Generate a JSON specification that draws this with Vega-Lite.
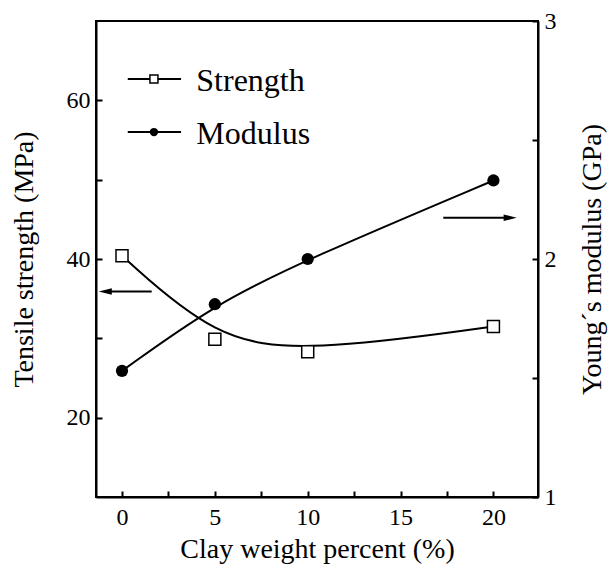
{
  "$schema": "https://vega.github.io/schema/vega-lite/v6.json",
  "width": 442,
  "height": 476,
  "autosize": "none",
  "padding": {"left": 96, "top": 21, "right": 72, "bottom": 75},
  "background": "white",
  "config": {
    "font": "Liberation Serif, Times New Roman, DejaVu Serif, serif",
    "view": {"stroke": "black", "strokeWidth": 2},
    "axis": {
      "grid": false,
      "domainColor": "black",
      "domainWidth": 2,
      "tickColor": "black",
      "tickWidth": 2,
      "tickSize": -6,
      "labelColor": "black",
      "titleColor": "black",
      "labelFont": "Liberation Serif, Times New Roman, DejaVu Serif, serif",
      "titleFont": "Liberation Serif, Times New Roman, DejaVu Serif, serif",
      "labelFontSize": 24,
      "titleFontSize": 28,
      "titleFontWeight": "normal"
    }
  },
  "datasets": {
    "strength": [
      {"clay": 0, "strength": 40.4},
      {"clay": 5, "strength": 29.9},
      {"clay": 10, "strength": 28.3},
      {"clay": 20, "strength": 31.5}
    ],
    "modulus": [
      {"clay": 0, "modulus": 1.53},
      {"clay": 5, "modulus": 1.81},
      {"clay": 10, "modulus": 2.0},
      {"clay": 20, "modulus": 2.33}
    ],
    "legend": [
      {"series": "Strength", "clay": 0.31, "clay_end": 3.18, "mid": 1.72, "strength": 62.7, "label_x": 4.0},
      {"series": "Modulus", "clay": 0.31, "clay_end": 3.18, "mid": 1.72, "strength": 56.0, "label_x": 4.0}
    ],
    "arrows": [
      {"clay": 1.6, "clay_end": -0.9, "head": -0.9, "strength": 35.9, "dir": "left"},
      {"clay": 17.3, "clay_end": 20.9, "head": 20.9, "strength": 45.2, "dir": "right"}
    ]
  },
  "encoding": {
    "x": {
      "field": "clay",
      "type": "quantitative",
      "scale": {"domain": [-1.4, 22.4], "nice": false, "zero": false},
      "axis": {
        "title": "Clay weight percent (%)",
        "values": [0, 2.5, 5, 7.5, 10, 12.5, 15, 17.5, 20],
        "labelExpr": "datum.value % 5 === 0 ? datum.label : ''",
        "labelPadding": 14,
        "titlePadding": 6
      }
    }
  },
  "layer": [
    {
      "encoding": {
        "y": {
          "field": "strength",
          "type": "quantitative",
          "scale": {"domain": [10, 70], "nice": false, "zero": false},
          "axis": {
            "orient": "left",
            "title": "Tensile strength (MPa)",
            "values": [20, 30, 40, 50, 60],
            "labelExpr": "datum.value % 20 === 0 ? datum.label : ''",
            "labelPadding": 12,
            "titlePadding": 28
          }
        }
      },
      "layer": [
        {
          "data": {"name": "strength"},
          "mark": {"type": "line", "interpolate": "basis", "color": "black", "strokeWidth": 2}
        },
        {
          "data": {"name": "strength"},
          "mark": {"type": "point", "shape": "square", "filled": true, "fill": "white", "stroke": "black", "strokeWidth": 1.5, "size": 144, "opacity": 1}
        },
        {
          "data": {"name": "legend"},
          "mark": {"type": "rule", "color": "black", "strokeWidth": 2},
          "encoding": {"x2": {"field": "clay_end"}}
        },
        {
          "data": {"name": "legend"},
          "transform": [{"filter": "datum.series === 'Strength'"}],
          "mark": {"type": "point", "shape": "square", "filled": true, "fill": "white", "stroke": "black", "strokeWidth": 1.5, "size": 64, "opacity": 1},
          "encoding": {"x": {"field": "mid", "type": "quantitative"}}
        },
        {
          "data": {"name": "legend"},
          "transform": [{"filter": "datum.series === 'Modulus'"}],
          "mark": {"type": "point", "shape": "circle", "filled": true, "color": "black", "size": 70, "opacity": 1},
          "encoding": {"x": {"field": "mid", "type": "quantitative"}}
        },
        {
          "data": {"name": "legend"},
          "mark": {"type": "text", "align": "left", "baseline": "middle", "fontSize": 32, "font": "Liberation Serif, Times New Roman, DejaVu Serif, serif", "color": "black", "dy": 2},
          "encoding": {
            "x": {"field": "label_x", "type": "quantitative"},
            "text": {"field": "series"}
          }
        },
        {
          "data": {"name": "arrows"},
          "mark": {"type": "rule", "color": "black", "strokeWidth": 2},
          "encoding": {"x2": {"field": "clay_end"}}
        },
        {
          "data": {"name": "arrows"},
          "transform": [{"filter": "datum.dir === 'left'"}],
          "mark": {"type": "point", "shape": "M-1,0L1,-0.5L1,0.5Z", "filled": true, "color": "black", "size": 170, "opacity": 1},
          "encoding": {"x": {"field": "head", "type": "quantitative"}}
        },
        {
          "data": {"name": "arrows"},
          "transform": [{"filter": "datum.dir === 'right'"}],
          "mark": {"type": "point", "shape": "M1,0L-1,-0.5L-1,0.5Z", "filled": true, "color": "black", "size": 170, "opacity": 1},
          "encoding": {"x": {"field": "head", "type": "quantitative"}}
        }
      ]
    },
    {
      "data": {"name": "modulus"},
      "encoding": {
        "y": {
          "field": "modulus",
          "type": "quantitative",
          "scale": {"domain": [1, 3], "nice": false, "zero": false},
          "axis": {
            "orient": "right",
            "title": "Young\u00b4s modulus (GPa)",
            "titleAngle": 270,
            "values": [1, 1.5, 2, 2.5, 3],
            "format": ".0f",
            "labelExpr": "datum.value % 1 === 0 ? datum.label : ''",
            "labelPadding": 12,
            "titlePadding": 50
          }
        }
      },
      "layer": [
        {"mark": {"type": "line", "interpolate": "basis", "color": "black", "strokeWidth": 2}},
        {"mark": {"type": "point", "shape": "circle", "filled": true, "color": "black", "size": 150, "opacity": 1}}
      ]
    }
  ],
  "resolve": {"scale": {"y": "independent"}, "axis": {"y": "independent"}}
}
